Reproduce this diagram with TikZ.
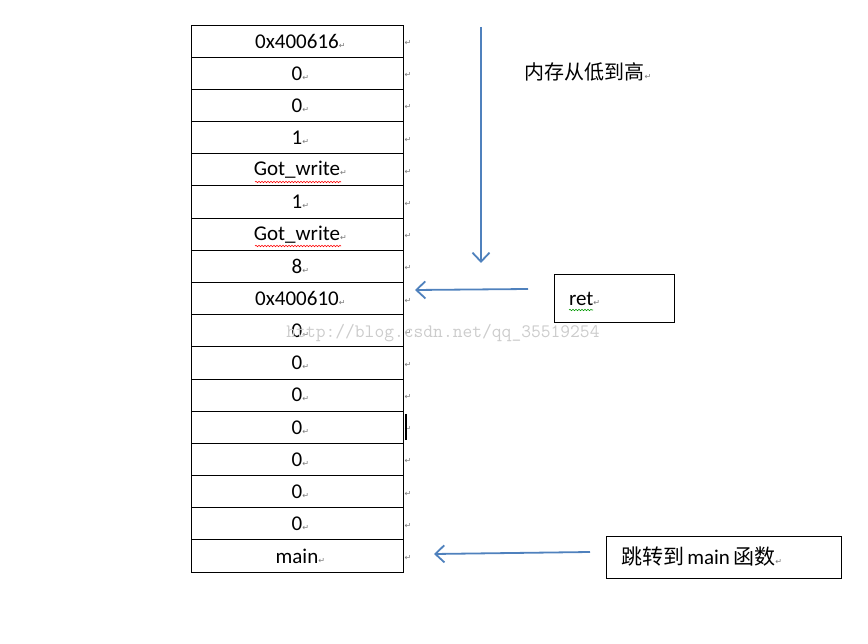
\documentclass[tikz,border=0pt]{standalone}
\usepackage{fontspec}
\setmainfont{Carlito}
\newfontfamily\cjk{Noto Sans CJK SC}
\newfontfamily\symf{DejaVu Sans}
\usetikzlibrary{arrows.meta,decorations.pathmorphing}
\definecolor{arrowblue}{RGB}{79,129,189}
\definecolor{markgray}{RGB}{120,120,120}
\newcommand\parmk{{\symf\fontsize{8}{8}\selectfont\color{markgray}↵}}
\tikzset{
  cell/.style={draw,line width=0.9pt,minimum width=212pt,minimum height=32.2pt,
    inner sep=0pt,font=\fontsize{21}{21}\selectfont,
    label={[inner sep=1pt,yshift=-2pt]east:\parmk}},
  blue arrow/.style={draw=arrowblue,line width=1.8pt,-{Straight Barb[length=9pt,width=17pt,line width=1.8pt]}},
  textbox/.style={draw,line width=1pt,inner sep=0pt,align=left},
  spellwave/.style={decorate,decoration={snake,amplitude=0.7pt,segment length=3pt},line width=0.6pt}
}
\begin{document}
\begin{tikzpicture}[x=1pt,y=-1pt]
  \useasboundingbox (0,0) rectangle (868,644);
  % stack, top to bottom
  \node[cell] (c0) at (297,41.1) {0x400616\rlap{\parmk}};
  \node[cell] (c1) at (297,73.3) {0\rlap{\parmk}};
  \node[cell] (c2) at (297,105.4) {0\rlap{\parmk}};
  \node[cell] (c3) at (297,137.6) {1\rlap{\parmk}};
  \node[cell] (c4) at (297,169.8) {Got\_write\rlap{\parmk}};
  \node[cell] (c5) at (297,202.0) {1\rlap{\parmk}};
  \node[cell] (c6) at (297,234.2) {Got\_write\rlap{\parmk}};
  \node[cell] (c7) at (297,266.4) {8\rlap{\parmk}};
  \node[cell] (c8) at (297,298.5) {0x400610\rlap{\parmk}};
  \node[cell] (c9) at (297,330.7) {0\rlap{\parmk}};
  \node[cell] (c10) at (297,362.9) {0\rlap{\parmk}};
  \node[cell] (c11) at (297,395.1) {0\rlap{\parmk}};
  \node[cell] (c12) at (297,427.3) {0\rlap{\parmk}};
  \node[cell] (c13) at (297,459.4) {0\rlap{\parmk}};
  \node[cell] (c14) at (297,491.6) {0\rlap{\parmk}};
  \node[cell] (c15) at (297,523.8) {0\rlap{\parmk}};
  \node[cell] (c16) at (297,556.0) {main\rlap{\parmk}};
  % spell-check marks
  \draw[spellwave,red] (255,182) -- (341,182);
  \draw[spellwave,red] (255,246) -- (341,246);
  % caret
  \draw[line width=1.5pt] (406,414) -- (406,440);
  % notes
  \node[anchor=west,font=\cjk\fontsize{20}{20}\selectfont] (order) at (521,72) {内存从低到高\parmk};
  \node[textbox,minimum width=120pt,minimum height=48pt,text width=90pt] (retbox) at (614,299)
    {\fontsize{21}{21}\selectfont ret\parmk};
  \node[textbox,minimum width=235pt,minimum height=42pt,text width=205pt] (jumpbox) at (723.5,557)
    {\fontsize{21}{21}\selectfont{\cjk 跳转到} main {\cjk 函数}\parmk};
  \draw[spellwave,green!60!black] (569,310) -- (593,310);
  % watermark
  \node[font=\ttfamily\fontsize{19}{19}\selectfont,text=black!20] (mark) at (443,333) {http://blog.csdn.net/qq\_35519254};
  % arrows
  \coordinate (dtop) at (481,27);
  \coordinate (dbot) at (481,263);
  \coordinate (rtail) at (528,289);
  \coordinate (rhead) at (415,290);
  \coordinate (mtail) at (590,552);
  \coordinate (mhead) at (434,554);
  \begin{scope}[blue arrow]
    \draw (dtop) to (dbot);
    \draw (rtail) to (rhead);
    \draw (mtail) to (mhead);
  \end{scope}
\end{tikzpicture}
\end{document}
